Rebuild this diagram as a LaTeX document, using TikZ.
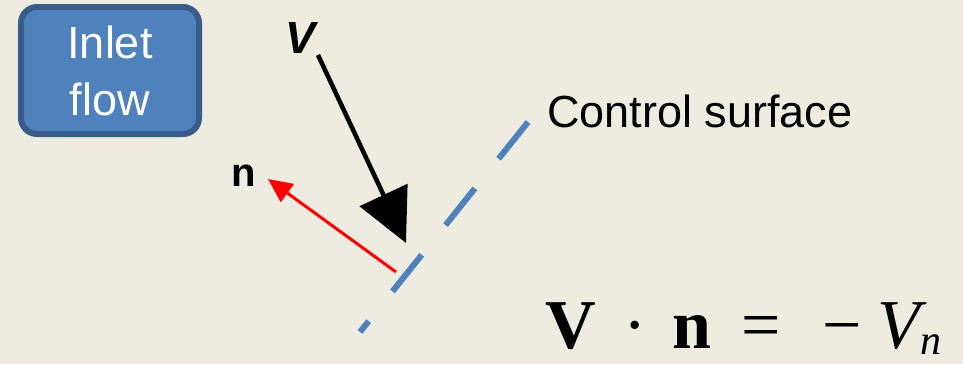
\documentclass[tikz,border=0pt]{standalone}
\usepackage{fontspec}
\setmainfont{Liberation Sans}
\newfontfamily\eqfont{Liberation Serif}
\usetikzlibrary{arrows.meta, positioning}

\definecolor{slidebg}{RGB}{238,235,225}
\definecolor{boxblue}{RGB}{79,129,189}
\definecolor{boxedge}{RGB}{56,93,138}

\begin{document}
\begin{tikzpicture}[x=1pt, y=-1pt,
				% Define styles
				inletbox/.style={rectangle, draw=boxedge, line width=6pt, rounded corners=16pt, fill=boxblue, minimum width=178pt, minimum height=127pt, align=center, text=white, font=\fontsize{45}{57}\selectfont},
				biglabel/.style={inner sep=0pt, font=\fontsize{45}{54}\selectfont},
				velarrow/.style={-{Triangle[length=53pt, width=52pt]}, line width=4.5pt, draw=black},
				normarrow/.style={-{Triangle[length=24pt, width=22pt]}, line width=3pt, draw=red},
				surfline/.style={line width=6pt, draw=boxblue, dash pattern=on 47pt off 38pt}
				]
				
				% Background
				\fill[slidebg] (0,0) rectangle (963,364);
				\useasboundingbox (0,0) rectangle (963,364);
				
				% Inlet box
				\node[inletbox] (inlet) at (110,70.5) {Inlet\\flow};
				
				% Labels
				\node[biglabel, anchor=base, font=\fontsize{45}{54}\selectfont\bfseries\itshape] (vlabel) at (301,53) {V};
				\node[biglabel, anchor=base, font=\fontsize{40}{48}\selectfont\bfseries] (nlabel) at (244,186) {n};
				\node[biglabel, anchor=base west] (cslabel) at (547,127) {Control surface};
				
				% Equation
				\node[inner sep=0pt, anchor=base west, font=\eqfont\fontsize{70}{76}\selectfont] (eq) at (545,348)
					{{\bfseries V}\hspace{28pt}·\hspace{25pt}{\bfseries n}\hspace{30pt}=\hspace{42pt}−\hspace{16pt}{\itshape V}\hspace{0pt}\raisebox{-6pt}{\fontsize{42}{46}\selectfont\itshape n}};
				
				% Arrow end points
				\coordinate (vtail) at (318,55);
				\coordinate (vtip) at (406,243);
				\coordinate (ntail) at (396,272);
				\coordinate (ntip) at (268,179);
				\coordinate (cstop) at (528,122);
				\coordinate (csbot) at (360,332);
				
				% Control surface
				\draw[surfline] (cstop) -- (csbot);
				
				% Velocity and normal
				\draw[velarrow] (vtail) -- (vtip);
				\draw[normarrow] (ntail) -- (ntip);
				
\end{tikzpicture}
\end{document}
